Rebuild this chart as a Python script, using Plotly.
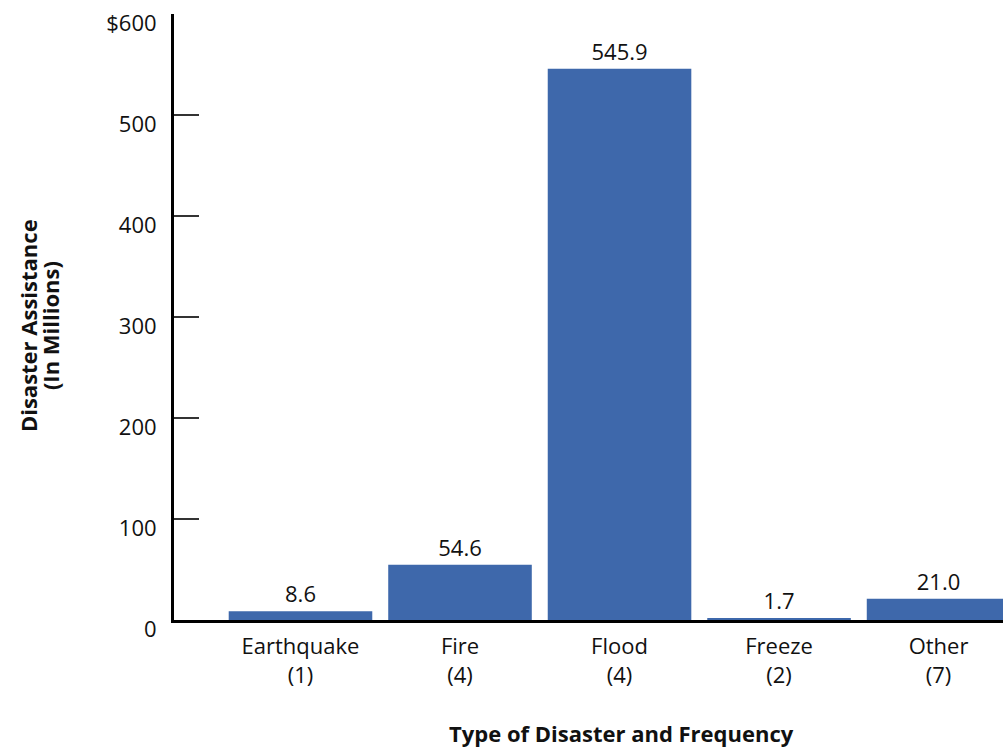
import plotly.graph_objects as go

# Disaster assistance by type, with the number of disasters in parentheses
disaster_types = ["Earthquake", "Fire", "Flood", "Freeze", "Other"]
frequencies = [1, 4, 4, 2, 7]
assistance_millions = [8.6, 54.6, 545.9, 1.7, 21.0]

y_tick_values = [0, 100, 200, 300, 400, 500, 600]
y_tick_labels = ["0", "100", "200", "300", "400", "500", "$600"]

y_title_lines = ["Disaster Assistance", "(In Millions)"]
x_title = "Type of Disaster and Frequency"

category_labels = [f"{t}<br>({n})" for t, n in zip(disaster_types, frequencies)]

FONT = "Open Sans"
TEXT_COLOR = "#111111"
BAR_COLOR = "#3E68AB"
SIZE = 22

fig = go.Figure(
    go.Bar(
        x=category_labels,
        y=assistance_millions,
        marker=dict(color=BAR_COLOR, line=dict(width=0)),
        text=[f"{v:.1f}" for v in assistance_millions],
        textposition="outside",
        cliponaxis=False,
        textfont=dict(family=FONT, size=SIZE, color=TEXT_COLOR),
        width=0.9,
    )
)

# Two-line rotated y-axis title, set line by line for tighter leading
for text, shift in zip(y_title_lines, [-146, -124]):
    fig.add_annotation(
        x=0, y=0.485, xref="paper", yref="paper",
        xshift=shift, text=f"<b>{text}</b>", textangle=-90,
        showarrow=False, xanchor="center", yanchor="middle",
        font=dict(family=FONT, size=SIZE, color=TEXT_COLOR),
    )

# x-axis title near the bottom edge, a little right of the plot centre
fig.add_annotation(
    x=0.54, y=-0.186, xref="paper", yref="paper",
    text=f"<b>{x_title}</b>", showarrow=False,
    xanchor="center", yanchor="middle",
    font=dict(family=FONT, size=SIZE, color=TEXT_COLOR),
)

fig.update_layout(
    width=1003,
    height=748,
    margin=dict(l=174, r=0, t=14, b=128),
    paper_bgcolor="white",
    plot_bgcolor="white",
    showlegend=False,
    font=dict(family=FONT, size=SIZE, color=TEXT_COLOR),
    xaxis=dict(
        type="category",
        range=[-0.793, 4.404],
        showline=True,
        linecolor="black",
        linewidth=2.5,
        ticks="",
        ticklabelstandoff=5,
        showgrid=False,
        zeroline=False,
        tickfont=dict(family=FONT, size=SIZE, color=TEXT_COLOR),
    ),
    yaxis=dict(
        range=[0, 600],
        tickvals=y_tick_values,
        ticktext=y_tick_labels,
        ticks="inside",
        ticklen=25,
        tickwidth=1.5,
        tickcolor="#333333",
        ticklabelshift=9,
        ticklabelstandoff=10,
        showline=True,
        linecolor="black",
        linewidth=3,
        showgrid=False,
        zeroline=False,
        tickfont=dict(family=FONT, size=SIZE, color=TEXT_COLOR),
    ),
)

fig.write_html("out.html")
